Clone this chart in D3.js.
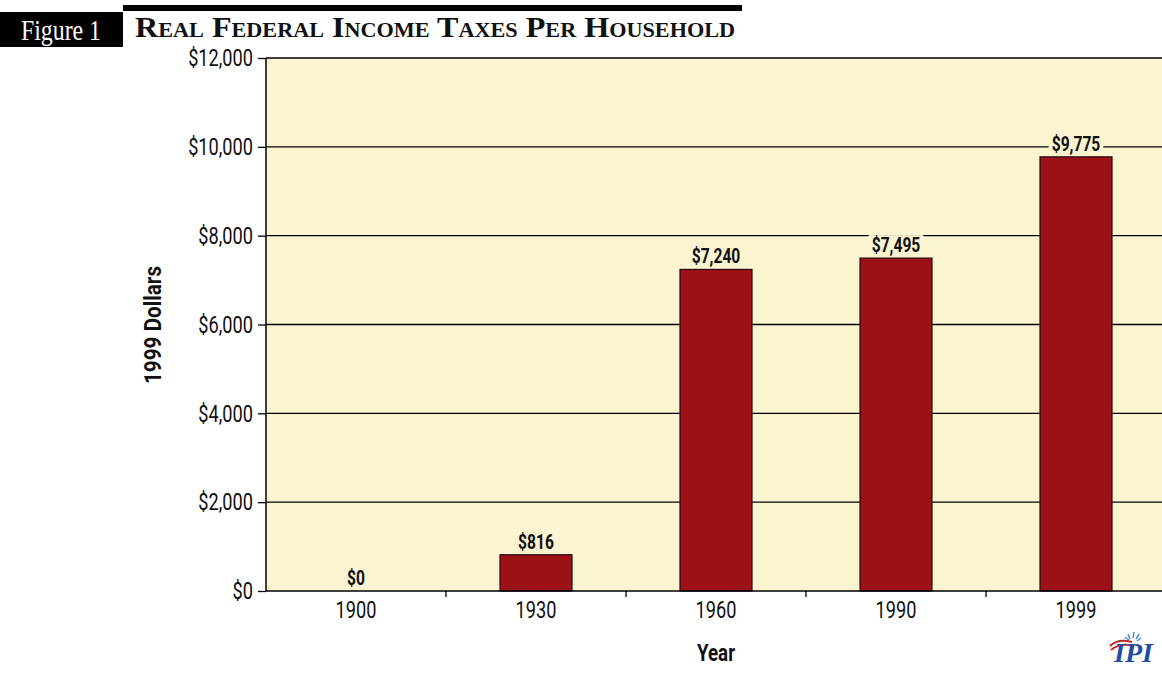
<!DOCTYPE html>
<html><head><meta charset="utf-8">
<script src="https://cdn.jsdelivr.net/npm/d3@7"></script>
<style>body{margin:0;background:#fff}</style>
</head><body>
<svg id="c" width="1162" height="675"></svg>
<script>
const categories = ["1900","1930","1960","1990","1999"];
const values = [0, 816, 7240, 7495, 9775];
const valueLabels = ["$0","$816","$7,240","$7,495","$9,775"];
const yTicks = [0,2000,4000,6000,8000,10000,12000];
const yTickLabels = ["$0","$2,000","$4,000","$6,000","$8,000","$10,000","$12,000"];

const svg = d3.select("#c");
const W=1162,H=675;
const m={left:266,top:58,right:1166,bottom:591};
const sans = "Roboto,'Liberation Sans',sans-serif";
const bg = "#FBF4D1";

function squeeze(sel, f){
  sel.each(function(){
    const L=this.getComputedTextLength();
    d3.select(this).attr("textLength",L*f).attr("lengthAdjust","spacingAndGlyphs");
  });
}

const x = d3.scaleBand().domain(categories).range([m.left,m.right]).paddingInner(0.6).paddingOuter(0.3);
const y = d3.scaleLinear().domain([0,12000]).range([m.bottom,m.top]);

// background
svg.append("rect").attr("x",m.left).attr("y",m.top).attr("width",m.right-m.left).attr("height",m.bottom-m.top).attr("fill",bg);

// header
svg.append("rect").attr("x",0).attr("y",12).attr("width",123).attr("height",35).attr("fill","#000");
svg.append("text").attr("x",61).attr("y",40).attr("text-anchor","middle").attr("fill","#fff")
  .style("font-family","'Liberation Serif',serif").style("font-size","30px").attr("textLength",80).attr("lengthAdjust","spacingAndGlyphs").text("Figure 1");
svg.append("rect").attr("x",123).attr("y",5).attr("width",619).attr("height",6).attr("fill","#000");
svg.append("text").attr("x",135).attr("y",37).attr("fill","#111")
  .style("font-family","'Liberation Serif',serif").style("font-size","29px").style("font-weight","bold")
  .style("font-variant","small-caps")
  .attr("textLength",600).attr("lengthAdjust","spacingAndGlyphs")
  .text("Real Federal Income Taxes Per Household");

// grid
svg.append("g").selectAll("line").data(yTicks.filter(d=>d>0)).join("line")
  .attr("x1",m.left).attr("x2",W).attr("y1",d=>y(d)).attr("y2",d=>y(d))
  .attr("stroke","#000").attr("stroke-width",1.3);

// y axis
const ya = svg.append("g").attr("transform",`translate(${m.left},0)`)
  .call(d3.axisLeft(y).tickValues(yTicks).tickFormat((d,i)=>yTickLabels[i]).tickSize(8).tickPadding(5));
ya.select(".domain").attr("stroke","#000").attr("stroke-width",1.5).attr("d",`M0,${m.top}V${m.bottom}`);
ya.selectAll("line").attr("stroke-width",1.3);
ya.selectAll("text").style("font-family",sans).style("font-size","23px").attr("fill","#111").attr("dy","0.34em").call(squeeze,0.79);

// bars
svg.append("g").selectAll("rect").data(values).join("rect")
  .attr("x",(d,i)=>x(categories[i])).attr("width",x.bandwidth())
  .attr("y",d=>y(d)).attr("height",d=>y(0)-y(d))
  .attr("fill","#9C1118").attr("stroke","#2a0a08").attr("stroke-width",1.2);

// value labels
const lab = svg.append("g").selectAll("g").data(values).join("g")
  .attr("transform",(d,i)=>`translate(${x(categories[i])+x.bandwidth()/2},${y(d)-6})`);
lab.append("text").attr("text-anchor","middle")
  .style("font-family",sans).style("font-size","20px").style("font-weight","bold").attr("fill","#111")
  .text((d,i)=>valueLabels[i])
  .call(squeeze,0.78)
  .each(function(){
    const b=this.getBBox();
    d3.select(this.parentNode).insert("rect","text").attr("x",b.x-3).attr("y",b.y+2).attr("width",b.width+6).attr("height",b.height-3).attr("fill",bg);
  });

// x axis
const xa = svg.append("g").attr("transform",`translate(0,${m.bottom})`)
  .call(d3.axisBottom(x).tickSize(0).tickPadding(11));
xa.select(".domain").attr("stroke","#000").attr("stroke-width",1.5).attr("d",`M${m.left},0H${W}`);
xa.selectAll("text").style("font-family",sans).style("font-size","23px").attr("fill","#111").call(squeeze,0.79);
// separator ticks
const step = x.step();
svg.append("g").selectAll("line").data(categories.slice(1)).join("line")
  .attr("x1",d=>x(d)+x.bandwidth()/2-step/2).attr("x2",d=>x(d)+x.bandwidth()/2-step/2)
  .attr("y1",m.bottom).attr("y2",m.bottom+6).attr("stroke","#000").attr("stroke-width",1.3);

// axis titles
svg.append("text").attr("x",716).attr("y",661).attr("text-anchor","middle")
  .style("font-family",sans).style("font-size","24px").style("font-weight","bold").attr("fill","#111").text("Year").call(squeeze,0.78);
svg.append("text").attr("transform","translate(161,325) rotate(-90)").attr("text-anchor","middle")
  .style("font-family",sans).style("font-size","23px").style("font-weight","bold").attr("fill","#111").text("1999 Dollars").call(squeeze,0.9);

// IPI logo
const lg = svg.append("g").attr("transform","translate(1108,640)");
lg.append("path").attr("d","M2,6 Q10,-2 24,2").attr("fill","none").attr("stroke","#c0262c").attr("stroke-width",2);
lg.append("path").attr("d","M3,10 Q12,2 26,6").attr("fill","none").attr("stroke","#c0262c").attr("stroke-width",2);
lg.append("path").attr("d","M20,-6 L22,-1 M26,-8 L25,-2 M31,-6 L28,-1 M17,-3 L21,0 M33,-2 L29,1").attr("stroke","#4a8fd0").attr("stroke-width",1.5);
lg.append("text").attr("x",6).attr("y",22).style("font-family","'Liberation Serif',serif").style("font-size","28px")
  .style("font-weight","bold").style("font-style","italic").attr("fill","#1f4ea0").text("IPI");
</script>
</body></html>
